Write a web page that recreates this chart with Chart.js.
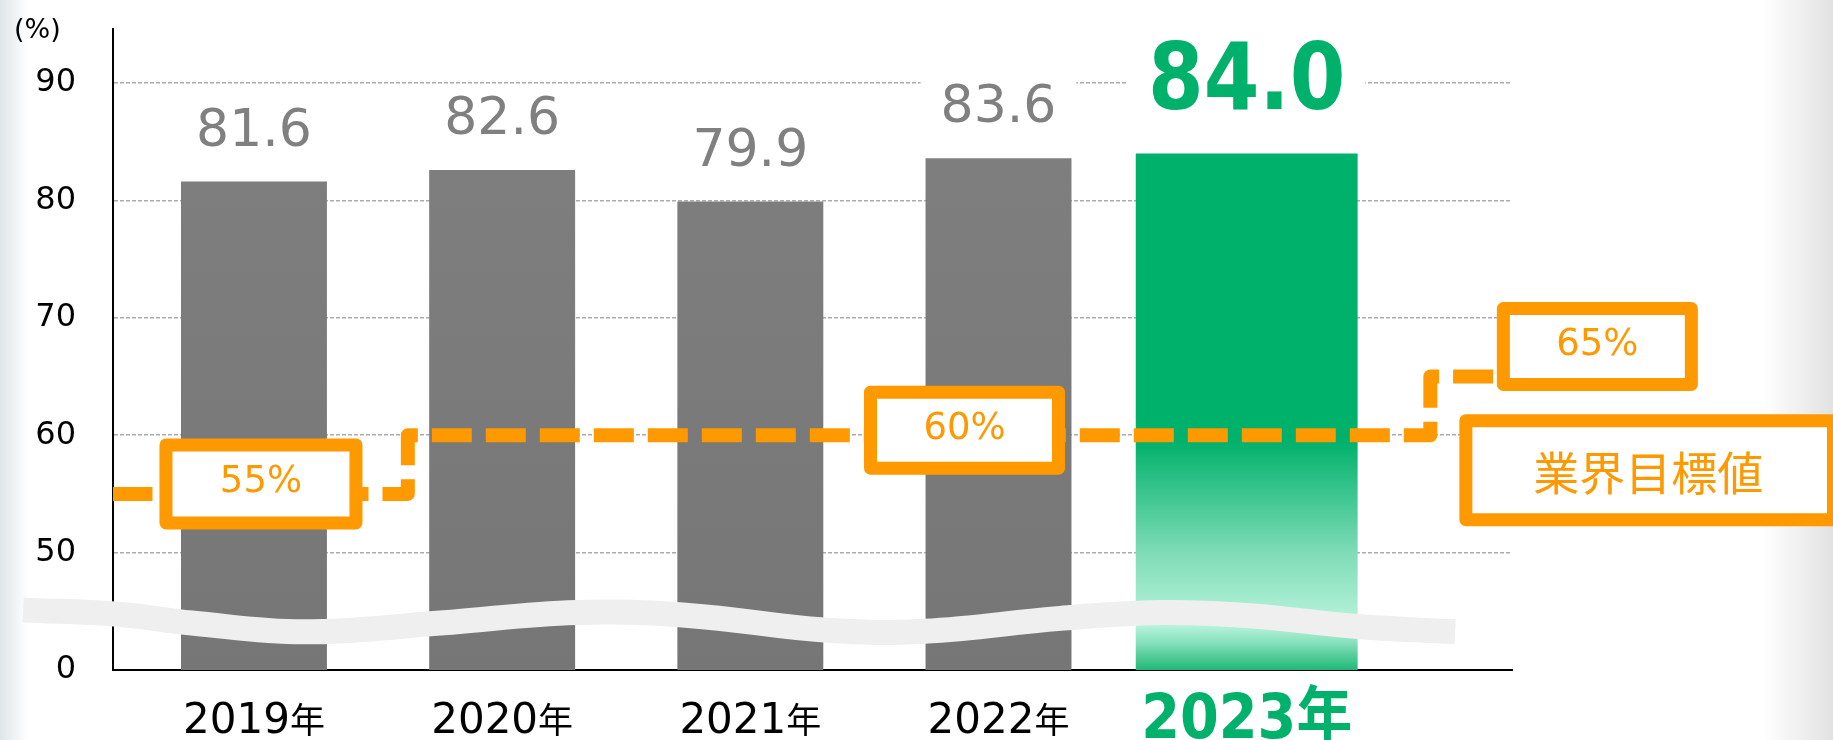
<!DOCTYPE html>
<html lang="ja">
<head>
<meta charset="utf-8">
<title>業界目標値</title>
<script src="https://cdn.jsdelivr.net/npm/chart.js@4/dist/chart.umd.min.js"></script>
<style>
  html, body { margin: 0; padding: 0; background: #fff; }
  #wrap { width: 1833px; height: 740px; }
</style>
</head>
<body>
<div id="wrap"><canvas id="myChart" width="1833" height="740"></canvas></div>
<script>
// values
const years = [2019, 2020, 2021, 2022, 2023];
const yearSuffix = '年';
const rates = [81.6, 82.6, 79.9, 83.6, 84.0];
const highlightYear = 2023;

// y axis is broken below 50: the bottom line stands for 0
const yTicks = [40, 50, 60, 70, 80, 90];
const yTickLabels = ['0', '50', '60', '70', '80', '90'];
const unitLabel = '(%)';

// industry target, drawn as a step line
const targetX = [2018.43, 2019.62, 2023.74, 2024.01];
const targetY = [55, 60, 65, 65];
const targetLabels = ['55%', '60%', '65%'];
const targetTitle = '業界目標値';

// the wavy break band across the bottom
const waveX = [2018.07, 2018.45, 2018.75, 2019.2, 2019.75, 2020.3, 2020.75, 2021.3, 2021.7, 2022.25, 2022.65, 2023.0, 2023.45, 2023.84];
const waveY = [45.1, 44.75, 44.0, 43.25, 44.0, 44.9, 44.65, 43.4, 43.3, 44.4, 44.9, 44.65, 43.7, 43.25];

const orange = '#ff9900';
const green = '#00b16b';
const grey = '#808080';

function greyFill(context) {
  const chart = context.chart;
  const area = chart.chartArea;
  if (!area) return grey;
  const g = chart.ctx.createLinearGradient(0, area.top, 0, area.bottom);
  g.addColorStop(0, '#808080');
  g.addColorStop(1, '#767676');
  return g;
}

function greenFill(context) {
  const chart = context.chart;
  const area = chart.chartArea;
  if (!area) return green;
  const ys = chart.scales.y;
  const h = area.bottom - area.top;
  const at = v => Math.min(1, Math.max(0, (ys.getPixelForValue(v) - area.top) / h));
  const g = chart.ctx.createLinearGradient(0, area.top, 0, area.bottom);
  g.addColorStop(0, green);
  g.addColorStop(at(59.5), green);
  g.addColorStop(at(50), '#7edcb6');
  g.addColorStop(at(45.3), '#abeed3');
  g.addColorStop(at(43.8), '#b8f3dc');
  g.addColorStop(at(42.3), '#86e0bb');
  g.addColorStop(1, '#1fb878');
  return g;
}

function drawBox(ctx, left, top, w, h, lw) {
  ctx.save();
  ctx.fillStyle = '#fff';
  ctx.fillRect(left + lw / 2, top + lw / 2, w - lw, h - lw);
  ctx.strokeStyle = orange;
  ctx.lineWidth = lw;
  ctx.lineJoin = 'round';
  ctx.strokeRect(left + lw / 2, top + lw / 2, w - lw, h - lw);
  ctx.restore();
}

const decorations = {
  id: 'decorations',
  beforeDraw(chart) {
    const {ctx, width, height} = chart;
    ctx.save();
    ctx.fillStyle = '#fff';
    ctx.fillRect(0, 0, width, height);
    let g = ctx.createLinearGradient(width - 70, 0, width, 0);
    g.addColorStop(0, 'rgba(226,226,226,0)');
    g.addColorStop(1, 'rgba(226,226,226,1)');
    ctx.fillStyle = g;
    ctx.fillRect(width - 70, 0, 70, height);
    g = ctx.createLinearGradient(0, 0, 28, 0);
    g.addColorStop(0, 'rgba(222,230,234,1)');
    g.addColorStop(1, 'rgba(222,230,234,0)');
    ctx.fillStyle = g;
    ctx.fillRect(0, 0, 28, height);
    ctx.restore();
  },
  afterDatasetsDraw(chart) {
    const ctx = chart.ctx;
    const xs = chart.scales.x, ys = chart.scales.y;
    const px = v => xs.getPixelForValue(v);
    const py = v => ys.getPixelForValue(v);

    // value labels above the bars
    years.forEach((yr, i) => {
      const hi = yr === highlightYear;
      const txt = rates[i].toFixed(1);
      const x = px(yr);
      const base = py(rates[i]) - (hi ? 44 : 36);
      const sx = hi ? 0.87 : 1;
      const cap = hi ? 67 : 38;
      ctx.save();
      ctx.font = hi ? 'bold 92px "DejaVu Sans"' : '52px "DejaVu Sans"';
      const w = ctx.measureText(txt).width * sx;
      ctx.fillStyle = '#fff';
      ctx.fillRect(x - w / 2 - 20, base - cap - 10, w + 40, cap + 20);
      ctx.fillStyle = hi ? green : grey;
      ctx.translate(x, base);
      ctx.scale(sx, 1);
      ctx.textAlign = 'center';
      ctx.textBaseline = 'alphabetic';
      ctx.fillText(txt, 0, 0);
      ctx.restore();
    });

    // target boxes
    const boxes = [
      {text: targetLabels[0], cx: px(years[0]) + 7, cy: py(targetY[0]) - 10, w: 203, h: 91},
      {text: targetLabels[1], cx: px(years[3]) - 34, cy: py(targetY[1]) - 5, w: 201, h: 89},
      {text: targetLabels[2], cx: px(targetX[3]) + 100, cy: py(targetY[2]) - 30, w: 201, h: 89}
    ];
    boxes.forEach(b => {
      drawBox(ctx, b.cx - b.w / 2, b.cy - b.h / 2, b.w, b.h, 13);
      ctx.save();
      ctx.fillStyle = orange;
      ctx.font = '37px "DejaVu Sans"';
      ctx.textAlign = 'center';
      ctx.textBaseline = 'alphabetic';
      ctx.fillText(b.text, b.cx, b.cy + 8.5);
      ctx.restore();
    });

    const tLeft = px(targetX[3]) - 38;
    const tCy = py(targetY[1]) + 35;
    drawBox(ctx, tLeft, tCy - 56, chart.width + 7 - tLeft, 112, 13);
    ctx.save();
    ctx.fillStyle = orange;
    ctx.font = '46px "Noto Sans CJK JP"';
    ctx.textAlign = 'center';
    ctx.textBaseline = 'alphabetic';
    ctx.fillText(targetTitle, tLeft + 189, tCy + 19.5);
    ctx.restore();
  },
  afterDraw(chart) {
    const ctx = chart.ctx;
    const xs = chart.scales.x;
    years.forEach(yr => {
      const x = xs.getPixelForValue(yr);
      ctx.save();
      ctx.textBaseline = 'alphabetic';
      if (yr === highlightYear) {
        ctx.fillStyle = green;
        ctx.font = 'bold 62px "DejaVu Sans", "Noto Sans CJK JP"';
        ctx.textAlign = 'center';
        ctx.translate(x, 738);
        ctx.scale(0.9, 1);
        ctx.fillText(yr + yearSuffix, 0, 0);
      } else {
        ctx.fillStyle = '#000';
        ctx.font = '42px "DejaVu Sans"';
        const w1 = ctx.measureText(String(yr)).width;
        ctx.font = '35px "Noto Sans CJK JP"';
        const w2 = ctx.measureText(yearSuffix).width;
        const start = x - (w1 + w2) / 2;
        ctx.textAlign = 'left';
        ctx.font = '42px "DejaVu Sans"';
        ctx.fillText(String(yr), start, 733);
        ctx.font = '35px "Noto Sans CJK JP"';
        ctx.fillText(yearSuffix, start + w1, 733);
      }
      ctx.restore();
    });

    ctx.save();
    ctx.fillStyle = '#000';
    ctx.font = '27px "DejaVu Sans"';
    ctx.textAlign = 'left';
    ctx.textBaseline = 'alphabetic';
    ctx.fillText(unitLabel, 14, 38);
    ctx.restore();
  }
};

const greyYears = years.filter(y => y !== highlightYear);

const chart = new Chart(document.getElementById('myChart'), {
  type: 'bar',
  data: {
    datasets: [{
      type: 'bar',
      label: '実績',
      data: greyYears.map(y => ({x: y, y: rates[years.indexOf(y)]})),
      backgroundColor: greyFill,
      barPercentage: 0.588,
      categoryPercentage: 1,
      grouped: false,
      order: 4
    }, {
      type: 'bar',
      label: String(highlightYear),
      data: [{x: highlightYear, y: rates[years.indexOf(highlightYear)]}],
      backgroundColor: greenFill,
      barPercentage: 0.894,
      categoryPercentage: 1,
      grouped: false,
      order: 3
    }, {
      type: 'line',
      label: 'break',
      data: waveX.map((x, i) => ({x: x, y: waveY[i]})),
      borderColor: '#efefef',
      borderWidth: 25,
      borderCapStyle: 'butt',
      pointRadius: 0,
      tension: 0.4,
      fill: false,
      clip: false,
      order: 2
    }, {
      type: 'line',
      label: targetTitle,
      data: targetX.map((x, i) => ({x: x, y: targetY[i]})),
      stepped: 'before',
      borderColor: orange,
      borderWidth: 14,
      borderDash: [40, 14],
      borderJoinStyle: 'round',
      borderCapStyle: 'butt',
      pointRadius: 0,
      fill: false,
      order: 1
    }]
  },
  options: {
    responsive: false,
    animation: false,
    layout: { padding: { top: 29, right: 321, left: 0, bottom: 0 } },
    plugins: {
      legend: { display: false },
      tooltip: { enabled: false }
    },
    scales: {
      x: {
        type: 'linear',
        min: 2018.432,
        max: 2024.069,
        offset: false,
        grid: { display: false },
        border: { display: true, color: '#000', width: 2 },
        ticks: { display: false },
        afterBuildTicks: axis => { axis.ticks = years.map(v => ({value: v})); },
        afterFit: axis => { axis.height = 70; axis.paddingLeft = 0; axis.paddingRight = 0; }
      },
      y: {
        min: 40,
        max: 94.6,
        grid: {
          color: c => (c.tick && c.tick.value === yTicks[0]) ? 'rgba(0,0,0,0)' : '#ababab',
          lineWidth: 1.5,
          drawTicks: false
        },
        border: { display: true, color: '#000', width: 2, dash: [4, 2] },
        ticks: {
          padding: 37,
          color: '#000',
          font: { family: '"DejaVu Sans"', size: 32 },
          callback: (v) => yTickLabels[yTicks.indexOf(v)]
        },
        afterBuildTicks: axis => { axis.ticks = yTicks.map(v => ({value: v})); },
        afterFit: axis => { axis.width = 113; axis.paddingTop = 0; axis.paddingBottom = 0; }
      }
    }
  },
  plugins: [decorations]
});
</script>
</body>
</html>
